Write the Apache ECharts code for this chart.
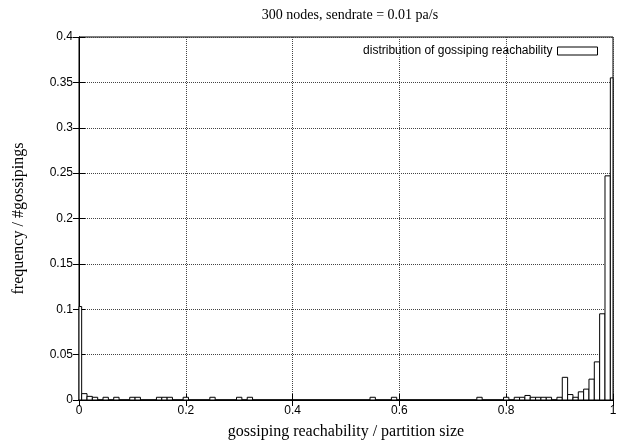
<!DOCTYPE html>
<html>
<head>
<meta charset="utf-8">
<script src="https://cdn.jsdelivr.net/npm/echarts@6/dist/echarts.min.js"></script>
<style>
  html, body { margin: 0; padding: 0; background: #fff; }
  #chart { width: 622px; height: 441px; }
</style>
</head>
<body>
<div id="chart"></div>
<script>
// histogram bins (centre of each 0.01 bin) and their frequency
var binCenters = [0, 0.01, 0.02, 0.03, 0.05, 0.07, 0.10, 0.11, 0.15, 0.16, 0.17, 0.20,
  0.25, 0.30, 0.32, 0.55, 0.59, 0.75, 0.80, 0.82, 0.83, 0.84, 0.85, 0.86, 0.87, 0.88,
  0.90, 0.91, 0.92, 0.93, 0.94, 0.95, 0.96, 0.97, 0.98, 0.99, 1.00];
var frequencies = [0.103, 0.007, 0.004, 0.003, 0.003, 0.003, 0.003, 0.003, 0.003, 0.003, 0.003, 0.003,
  0.003, 0.003, 0.003, 0.003, 0.003, 0.003, 0.003, 0.003, 0.003, 0.005, 0.003, 0.003, 0.003, 0.003,
  0.003, 0.025, 0.006, 0.003, 0.009, 0.012, 0.023, 0.042, 0.095, 0.247, 0.355];
var binWidth = 0.01;
var xTicks = [0, 0.2, 0.4, 0.6, 0.8, 1];
var yTicks = [0, 0.05, 0.1, 0.15, 0.2, 0.25, 0.3, 0.35, 0.4];

(function () {
  var myChart = echarts.init(document.getElementById("chart"));

  var data = binCenters.map(function (c, i) { return [c, frequencies[i]]; });

  var tickLabel = { color: "#000", fontFamily: "Liberation Sans", fontSize: 12 };
  var nameFont = { fontFamily: "Liberation Serif", fontSize: 16, color: "#000" };
  var grid = { type: "dotted", color: "#444", width: 1 };

  var option = {
    animation: false,
    backgroundColor: "#fff",
    title: {
      text: "300 nodes, sendrate = 0.01 pa/s",
      left: 345,
      textAlign: "center",
      top: 3,
      textStyle: { fontFamily: "Liberation Serif", fontSize: 14, fontWeight: "normal", color: "#000" }
    },
    legend: {
      right: 19,
      top: 40,
      align: "right",
      itemWidth: 40,
      itemHeight: 8,
      itemGap: 0,
      textStyle: { fontFamily: "Liberation Sans", fontSize: 12, color: "#000", padding: [0, 0, 0, 0] },
      data: [{
        name: "distribution of gossiping reachability",
        icon: "rect",
        itemStyle: { color: "#fff", borderColor: "#000", borderWidth: 1 }
      }]
    },
    grid: {
      left: 79, right: 9, top: 37, bottom: 41,
      outerBoundsMode: "none",
      containLabel: false,
      show: true, borderColor: "#000", borderWidth: 1
    },
    xAxis: [{
      type: "value",
      min: xTicks[0], max: xTicks[xTicks.length - 1], interval: 0.2,
      name: "gossiping reachability / partition size",
      nameLocation: "middle",
      nameGap: 24,
      nameTextStyle: nameFont,
      axisLine: { lineStyle: { color: "#000", width: 1.5 } },
      axisTick: { inside: true, length: 6, lineStyle: { color: "#000" } },
      axisLabel: Object.assign({ margin: 5 }, tickLabel),
      splitLine: { show: true, lineStyle: grid }
    }, {
      type: "value",
      position: "top",
      min: xTicks[0], max: xTicks[xTicks.length - 1], interval: 0.2,
      axisLine: { lineStyle: { color: "#000" } },
      axisTick: { inside: true, length: 6, lineStyle: { color: "#000" } },
      axisLabel: { show: false },
      splitLine: { show: false }
    }],
    yAxis: [{
      type: "value",
      min: yTicks[0], max: yTicks[yTicks.length - 1], interval: 0.05,
      name: "frequency / #gossipings",
      nameLocation: "middle",
      nameGap: 52,
      nameTextStyle: nameFont,
      axisLine: { show: true, lineStyle: { color: "#000" } },
      axisTick: { show: true, inside: true, length: 6, lineStyle: { color: "#000" } },
      axisLabel: Object.assign({ margin: 6 }, tickLabel),
      splitLine: { show: true, lineStyle: grid }
    }, {
      type: "value",
      position: "right",
      min: yTicks[0], max: yTicks[yTicks.length - 1], interval: 0.05,
      axisLine: { show: true, lineStyle: { color: "#000" } },
      axisTick: { show: true, inside: true, length: 6, lineStyle: { color: "#000" } },
      axisLabel: { show: false },
      splitLine: { show: false }
    }],
    series: [{
      name: "distribution of gossiping reachability",
      type: "custom",
      xAxisIndex: 0,
      yAxisIndex: 0,
      encode: { x: 0, y: 1 },
      itemStyle: { color: "#fff", borderColor: "#000", borderWidth: 1 },
      renderItem: function (params, api) {
        var c = api.value(0), h = api.value(1);
        var p0 = api.coord([c - binWidth / 2, h]);
        var p1 = api.coord([c + binWidth / 2, 0]);
        var cs = params.coordSys;
        var rect = echarts.graphic.clipRectByRect(
          { x: p0[0], y: p0[1], width: p1[0] - p0[0], height: p1[1] - p0[1] },
          { x: cs.x, y: cs.y, width: cs.width, height: cs.height }
        );
        return rect && {
          type: "rect",
          shape: rect,
          style: { fill: "#fff", stroke: "#000", lineWidth: 1 }
        };
      },
      data: data
    }]
  };

  myChart.setOption(option);
  window.addEventListener("resize", function () {
    myChart.resize();
  });
})();
</script>
</body>
</html>
